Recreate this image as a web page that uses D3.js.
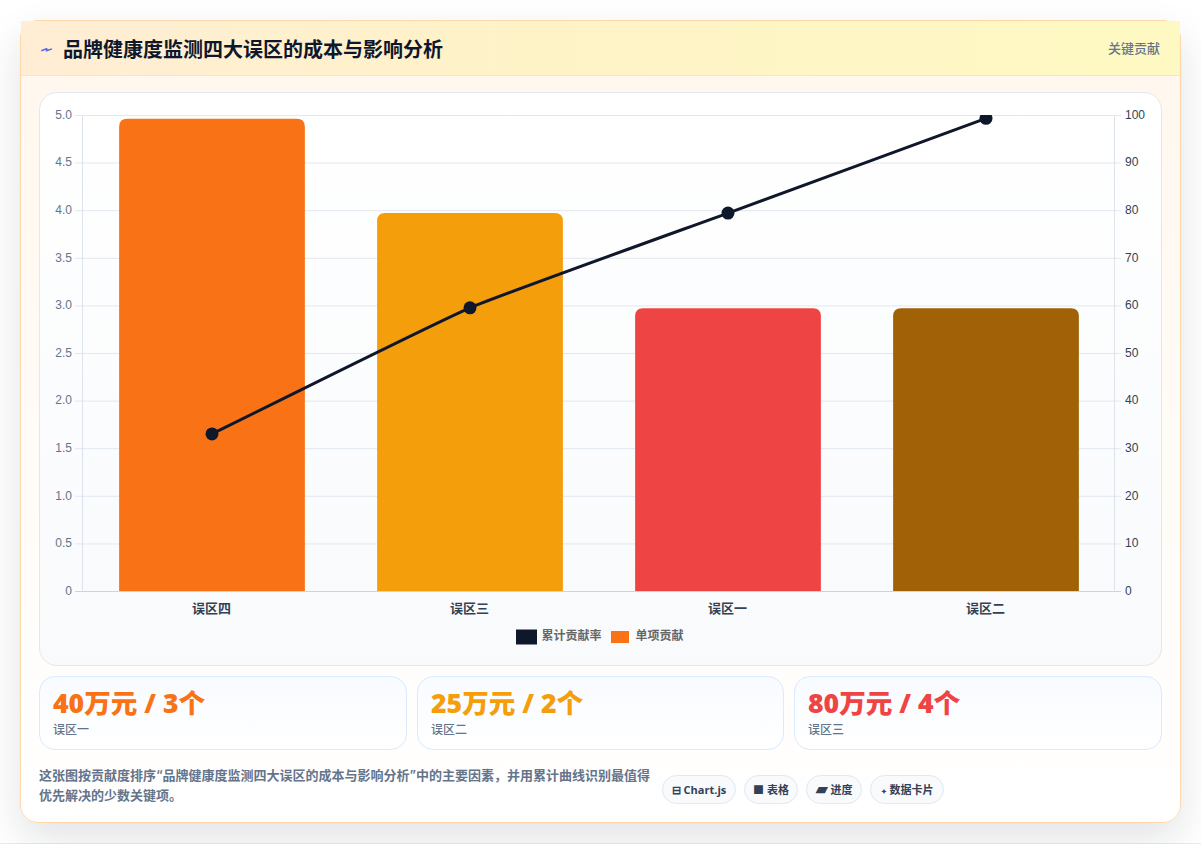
<!DOCTYPE html>
<html lang="zh">
<head>
<meta charset="utf-8">
<script src="https://cdn.jsdelivr.net/npm/d3@7"></script>
<style>
  * { box-sizing: border-box; }
  html, body { margin: 0; width: 1201px; height: 844px; overflow: hidden; background: #fff; font-family: Inter, "Noto Sans CJK SC", sans-serif; }
  #page-edge { position: absolute; left: 0; right: 0; top: 843px; height: 1px; background: #e8eaee; }
  #card { position: absolute; left: 20px; top: 20px; width: 1161px; height: 803px; border: 1px solid #fed7aa; border-radius: 18px;
          background: linear-gradient(180deg, #fff7ed 0%, #ffffff 100%);
          box-shadow: 0 16px 40px rgba(15,23,42,.12); }
  #head { position: absolute; left: 0; top: 0; width: 1159px; height: 55px; border-bottom: 1px solid #e2e8f0;
          background: linear-gradient(90deg, #ffedd5 0%, #fef3c7 45%, #fef9c3 100%); }
  #bolt { position: absolute; left: 20px; top: 17px; font-size: 18px; color: #4f5ff0; line-height: 22px; transform: scale(-1.25, 0.8); }
  #title { position: absolute; left: 42px; top: 15px; font-size: 20px; line-height: 28px; font-weight: 700; color: #0f172a; }
  #tag { position: absolute; right: 20px; top: 17px; font-size: 13px; line-height: 20px; color: #64748b; font-weight: 500; }
  #chart { position: absolute; left: 18px; top: 71px; width: 1123px; height: 574px; border: 1px solid #e2e8f0; border-radius: 18px;
           background: linear-gradient(180deg, #ffffff 0%, #f8fafc 100%); }
  #chart svg { position: absolute; left: -1px; top: -1px; }
  .kpi { position: absolute; top: 655px; height: 74px; border: 1px solid #dbeafe; border-radius: 16px; background: linear-gradient(180deg,#f8fbff,#ffffff); }
  .kpi b { position: absolute; left: 13px; top: 9px; font-size: 26.6px; line-height: 34px; font-weight: 800; font-family: "Open Sans", "Noto Sans CJK SC", sans-serif; white-space: nowrap; }
  .kpi span { position: absolute; left: 13px; top: 44px; font-size: 12px; line-height: 18px; font-weight: 500; color: #64748b; }
  #note { position: absolute; left: 18px; top: 743.5px; width: 620px; font-size: 13px; line-height: 20px; font-weight: 600; color: #64748b; }
  .chip { position: absolute; top: 754px; height: 29px; border: 1px solid #e2e8f0; border-radius: 15px; background: #f8fafc;
          font-size: 11px; line-height: 27px; font-weight: 700; color: #334155; text-align: center; white-space: nowrap; font-family: "Open Sans", "Noto Sans CJK SC", sans-serif; }
</style>
</head>
<body>
<div id="page-edge"></div>
<div id="card">
  <div id="head">
    <div id="bolt">⌁</div>
    <div id="title">品牌健康度监测四大误区的成本与影响分析</div>
    <div id="tag">关键贡献</div>
  </div>
  <div id="chart"></div>
  <div id="kpis"></div>
  <div id="note">这张图按贡献度排序“品牌健康度监测四大误区的成本与影响分析”中的主要因素，并用累计曲线识别最值得优先解决的少数关键项。</div>
  <div id="chips"></div>
</div>
<script>
const categories = ["误区四", "误区三", "误区一", "误区二"];
const contribution = [4.96, 3.97, 2.97, 2.97];
const cumulativeRate = [33.0, 59.5, 79.4, 99.3];
const barColors = ["#f97316", "#f59e0b", "#ef4444", "#a16207"];
const leftTicks = [0, 0.5, 1, 1.5, 2, 2.5, 3, 3.5, 4, 4.5, 5];
const rightTicks = [0, 10, 20, 30, 40, 50, 60, 70, 80, 90, 100];
const legendItems = ["累计贡献率", "单项贡献"];
const kpiValues = ["40万元 / 3个", "25万元 / 2个", "80万元 / 4个"];
const kpiLabels = ["误区一", "误区二", "误区三"];
const kpiColors = ["#f97316", "#f59e0b", "#ef4444"];
const chipIcons = ["⊟", "■", "▰", "✦"];
const chipIconSizes = [11, 11, 15, 7];
const chipLabels = ["Chart.js", "表格", "进度", "数据卡片"];

// KPI cards and footer chips
const kpiLeft = [18, 396, 773], kpiWidth = [368, 367, 368];
d3.select("#kpis").selectAll("div").data(kpiValues).join("div")
  .attr("class", "kpi")
  .style("left", (d, i) => kpiLeft[i] + "px")
  .style("width", (d, i) => kpiWidth[i] + "px")
  .html((d, i) => `<b style="color:${kpiColors[i]}">${d}</b><span>${kpiLabels[i]}</span>`);

const chipLeft = [641, 723, 785, 849], chipWidth = [74, 54, 56, 74];
d3.select("#chips").selectAll("div").data(chipLabels).join("div")
  .attr("class", "chip")
  .style("left", (d, i) => chipLeft[i] + "px")
  .style("width", (d, i) => chipWidth[i] + "px")
  .html((d, i) => `<span style="font-size:${chipIconSizes[i]}px;line-height:1">${chipIcons[i]}</span> ${d}`);

// Pareto chart: bars on the left axis, cumulative curve on the right axis
const width = 1123, height = 574;
const plot = { left: 43, right: 1075, top: 23, bottom: 499 };
const svg = d3.select("#chart").append("svg").attr("width", width).attr("height", height);

const x = d3.scaleBand().domain(categories).range([plot.left + 1, plot.right + 1]).paddingInner(0.28).paddingOuter(0.14);
const yLeft = d3.scaleLinear().domain([0, 5]).range([plot.bottom, plot.top]);
const yRight = d3.scaleLinear().domain([0, 100]).range([plot.bottom, plot.top]);

const tickFont = "12px 'Liberation Sans', Arial, sans-serif";

// horizontal grid
svg.append("g").selectAll("line").data(leftTicks).join("line")
  .attr("x1", plot.left - 7).attr("x2", plot.right + 7)
  .attr("y1", d => yLeft(d) + 0.5).attr("y2", d => yLeft(d) + 0.5)
  .attr("stroke", d => d === 0 ? "#cbd5e1" : "#e2e8f0");

// vertical axis rules
svg.append("g").selectAll("line").data([plot.left, plot.right]).join("line")
  .attr("x1", d => d + 0.5).attr("x2", d => d + 0.5)
  .attr("y1", plot.top).attr("y2", plot.bottom)
  .attr("stroke", "#dde3ea");

// bars with rounded top corners
const radius = 8;
svg.append("g").selectAll("path").data(categories).join("path")
  .attr("fill", (d, i) => barColors[i])
  .attr("d", (d, i) => {
    const l = x(d), r = l + x.bandwidth(), t = yLeft(contribution[i]), b = yLeft(0);
    return `M${l},${b}V${t + radius}Q${l},${t} ${l + radius},${t}H${r - radius}Q${r},${t} ${r},${t + radius}V${b}Z`;
  });

// left tick labels
svg.append("g").selectAll("text").data(leftTicks).join("text")
  .attr("x", plot.left - 10).attr("y", d => yLeft(d) - 0.5).attr("dy", "0.35em")
  .attr("text-anchor", "end").attr("fill", "#64748b").style("font", tickFont)
  .text(d => d === 0 ? "0" : d3.format(".1f")(d));

// right tick labels
svg.append("g").selectAll("text").data(rightTicks).join("text")
  .attr("x", plot.right + 11).attr("y", d => yRight(d) - 0.5).attr("dy", "0.35em")
  .attr("fill", "#334155").style("font", tickFont)
  .text(d => d);

// category labels
svg.append("g").selectAll("text").data(categories).join("text")
  .attr("x", d => x(d) + x.bandwidth() / 2 - 0.5).attr("y", plot.bottom + 22)
  .attr("text-anchor", "middle").attr("fill", "#334155")
  .style("font", "600 13px 'Noto Sans CJK SC', sans-serif")
  .text(d => d);

// cumulative curve, clipped to the plot area
const clipId = "plot-clip";
svg.append("clipPath").attr("id", clipId).append("rect")
  .attr("x", plot.left).attr("y", plot.top).attr("width", plot.right - plot.left).attr("height", plot.bottom - plot.top);
const line = d3.line()
  .x(d => x(d.c) + x.bandwidth() / 2)
  .y(d => yRight(d.v))
  .curve(d3.curveCardinal.tension(0.65));
const pts = categories.map((c, i) => ({ c, v: cumulativeRate[i] }));
const lineLayer = svg.append("g").attr("clip-path", `url(#${clipId})`);
lineLayer.append("path").datum(pts).attr("d", line)
  .attr("fill", "none").attr("stroke", "#0f172a").attr("stroke-width", 3);
lineLayer.selectAll("circle").data(pts).join("circle")
  .attr("cx", d => x(d.c) + x.bandwidth() / 2).attr("cy", d => yRight(d.v)).attr("r", 6.5)
  .attr("fill", "#0f172a");

// legend
const legend = svg.append("g");
const legendX = [477, 572], legendW = [21, 18], legendH = [15, 12], legendTextX = [502.5, 596.5];
legend.selectAll("rect").data(legendItems).join("rect")
  .attr("x", (d, i) => legendX[i]).attr("y", (d, i) => 545 - legendH[i] / 2)
  .attr("width", (d, i) => legendW[i]).attr("height", (d, i) => legendH[i])
  .attr("fill", (d, i) => i === 0 ? "#0f172a" : barColors[0]);
legend.selectAll("text").data(legendItems).join("text")
  .attr("x", (d, i) => legendTextX[i]).attr("y", 544).attr("dy", "0.35em")
  .attr("fill", "#666").style("font", "600 12px 'Noto Sans CJK SC', sans-serif")
  .text(d => d);
</script>
</body>
</html>
